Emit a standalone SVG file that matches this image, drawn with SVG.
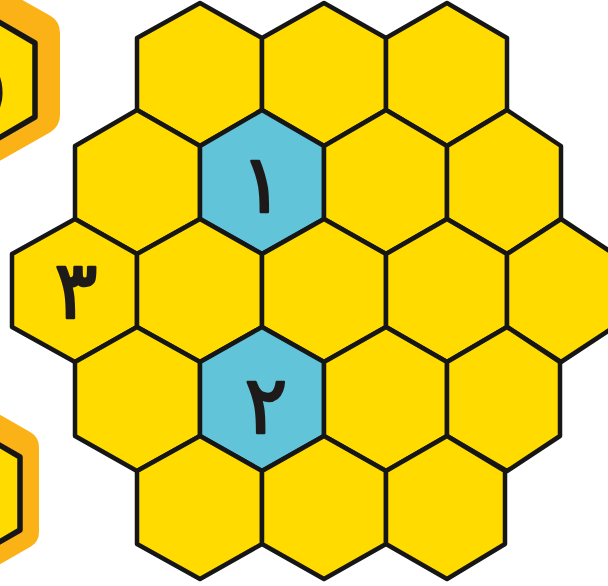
<svg xmlns="http://www.w3.org/2000/svg" width="608" height="586" viewBox="0 0 608 586">
<style>
.hex{fill:#FFDB00;stroke:#161616;stroke-width:4.5;stroke-linejoin:round}
.blue{fill:#62C4D8}
.rim{fill:#FBB216;stroke:#FBB216;stroke-linejoin:round}
.edge{stroke-width:5.5}
.num{font-family:"DejaVu Sans",sans-serif;font-weight:normal;font-size:80px;fill:#1e1a1a;stroke:#1e1a1a;stroke-width:2.5;stroke-linejoin:round;text-anchor:middle}
</style>
<rect width="608" height="586" fill="#ffffff"/>
<g id="side-top">
<polygon class="rim" stroke-width="40" points="-27,-5 40,33 40,115 -27,153 -94,115 -94,33"/>
<polygon class="hex edge" points="-27,7 35,43 35,117 -27,153 -89,117 -89,43"/>
<text class="num" x="-16" y="112">۵</text>
</g>
<g id="side-bottom">
<polygon class="rim" stroke-width="34" points="-42,410 22,447 22,532 -42,569 -106,532 -106,447"/>
<polygon class="hex edge" points="-42,421 20,457 20,530 -42,566 -104,530 -104,457"/>
</g>
<g id="row1">
<polygon id="h1-1" class="hex" points="200,3 262,38 262,110 200,146 137,110 137,38"/>
<polygon id="h1-2" class="hex" points="324,3 386,38 386,110 324,146 262,110 262,38"/>
<polygon id="h1-3" class="hex" points="447,3 507,38 507,110 447,146 386,110 386,38"/>
</g>
<g id="row2">
<polygon id="h2-1" class="hex" points="137,110 200,146 200,219 137,254 75,219 75,146"/>
<g id="h2-2">
<polygon class="hex blue" points="262,110 324,146 324,219 262,254 200,219 200,146"/>
<text class="num" x="262" y="212" font-weight="bold" stroke-width="0.5">۱</text>
</g>
<polygon id="h2-3" class="hex" points="386,110 447,146 447,219 386,254 324,219 324,146"/>
<polygon id="h2-4" class="hex" points="507,110 561,146 561,219 507,254 447,219 447,146"/>
</g>
<g id="row3">
<g id="h3-1">
<polygon class="hex" points="75,219 137,254 137,327 75,362 12,327 12,254"/>
<text class="num" x="76" y="318">۳</text>
</g>
<polygon id="h3-2" class="hex" points="200,219 262,254 262,327 200,362 137,327 137,254"/>
<polygon id="h3-3" class="hex" points="324,219 386,254 386,327 324,362 262,327 262,254"/>
<polygon id="h3-4" class="hex" points="447,219 507,254 507,327 447,362 386,327 386,254"/>
<polygon id="h3-5" class="hex" points="561,219 614,254 614,327 561,362 507,327 507,254"/>
</g>
<g id="row4">
<polygon id="h4-1" class="hex" points="137,327 200,362 200,436 137,471 75,436 75,362"/>
<g id="h4-2">
<polygon class="hex blue" points="262,327 324,362 324,436 262,471 200,436 200,362"/>
<text class="num" x="266" y="433">۲</text>
</g>
<polygon id="h4-3" class="hex" points="386,327 447,362 447,436 386,471 324,436 324,362"/>
<polygon id="h4-4" class="hex" points="507,327 560,362 560,436 507,471 447,436 447,362"/>
</g>
<g id="row5">
<polygon id="h5-1" class="hex" points="200,436 262,471 262,544 200,579 137,544 137,471"/>
<polygon id="h5-2" class="hex" points="324,436 386,471 386,544 324,579 262,544 262,471"/>
<polygon id="h5-3" class="hex" points="447,436 505,471 505,544 447,579 386,544 386,471"/>
</g>
<g id="connectors"></g>
</svg>
